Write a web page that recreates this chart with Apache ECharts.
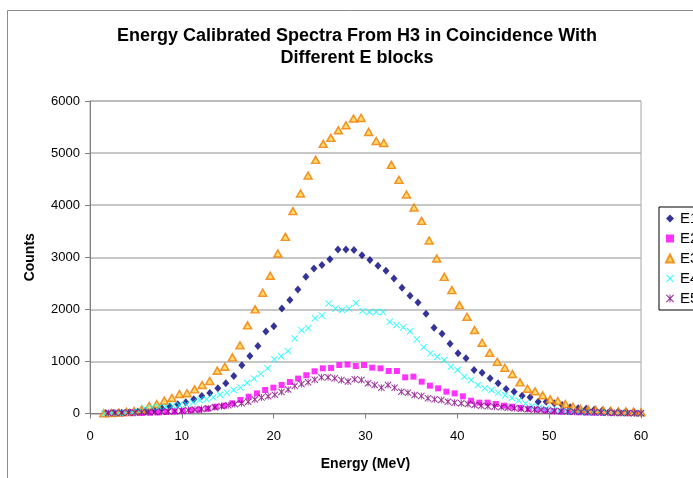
<!DOCTYPE html>
<html>
<head>
<meta charset="utf-8">
<script src="https://cdn.jsdelivr.net/npm/echarts@6.0.0/dist/echarts.min.js"></script>
<style>
  html, body { margin: 0; padding: 0; background: #fff; }
  #chart { width: 693px; height: 478px; }
</style>
</head>
<body>
<div id="chart"></div>
<script>
// counts per channel for each E block
const E1_COUNTS = [5, 10, 15, 25, 35, 50, 75, 100, 135, 176, 215, 272, 336, 393, 483, 579, 719, 927, 1106, 1298,
  1573, 1675, 2018, 2177, 2382, 2624, 2785, 2849, 2964, 3150, 3150, 3137, 3040, 2945, 2836, 2740, 2593, 2413, 2260, 2133,
  1915, 1646, 1531, 1340, 1155, 1059, 834, 783, 675, 579, 470, 418, 342, 311, 227, 227, 196, 165, 120, 100,
  90, 70, 60, 50, 40, 30, 25];
const E2_COUNTS = [0, 0, 5, 5, 10, 15, 20, 30, 40, 50, 60, 70, 90, 130, 150, 196, 259, 323, 387, 451,
  496, 547, 605, 670, 735, 810, 867, 875, 931, 940, 912, 931, 880, 867, 816, 816, 694, 707, 611, 534,
  483, 419, 387, 330, 245, 208, 208, 182, 150, 130, 110, 90, 75, 60, 45, 35, 30, 25, 20, 15,
  12, 10, 8, 5, 5];
const E3_COUNTS = [5, 10, 20, 30, 45, 75, 144, 182, 246, 297, 374, 388, 464, 547, 624, 822, 898, 1078, 1308, 1692,
  2000, 2318, 2645, 3073, 3392, 3885, 4224, 4570, 4870, 5177, 5292, 5438, 5534, 5663, 5675, 5406, 5233, 5195, 4773, 4485,
  4205, 3955, 3698, 3322, 2977, 2624, 2369, 2081, 1857, 1602, 1358, 1167, 994, 879, 758, 598, 476, 426, 349, 272,
  240, 182, 130, 92, 80, 70, 60, 50, 40, 40, 35, 25];
const E4_COUNTS = [0, 5, 10, 15, 25, 40, 90, 115, 125, 135, 150, 163, 180, 215, 259, 275, 310, 360, 400, 451,
  500, 590, 670, 760, 867, 1040, 1100, 1200, 1440, 1600, 1640, 1830, 1880, 2114, 2018, 1986, 2018, 2120, 1970, 1950,
  1950, 1950, 1760, 1700, 1653, 1580, 1423, 1270, 1155, 1090, 1026, 898, 834, 706, 643, 547, 483, 451, 400, 350,
  300, 250, 190, 140, 110, 90, 70, 55, 45, 35, 30, 25, 20, 18, 15, 12, 10, 8, 5, 5];
const E5_COUNTS = [10, 15, 15, 20, 20, 25, 30, 30, 35, 40, 45, 55, 65, 75, 85, 100, 119, 140, 160, 180,
  196, 225, 270, 305, 330, 360, 415, 460, 530, 566, 600, 650, 694, 694, 675, 643, 615, 656, 643, 579,
  547, 496, 547, 496, 419, 400, 355, 336, 291, 272, 259, 227, 208, 196, 182, 163, 150, 140, 130, 120,
  110, 100, 90, 80, 75, 70, 60, 50, 45, 40, 35, 30, 25, 22, 20, 15, 12, 10, 8, 5, 5];

// energy calibration of each block: [offset MeV, MeV per channel]
const E1_CAL = [1.71, 0.872];
const E2_CAL = [2.03, 0.897];
const E3_CAL = [1.5, 0.824];
const E4_CAL = [1.6, 0.739];
const E5_CAL = [2.0, 0.725];

const BLOCK_NAMES = ["E1", "E2", "E3", "E4", "E5"];
const X_TICKS = [0, 60, 10];
const Y_TICKS = [0, 6000, 1000];

const FONT = "'Liberation Sans', Arial, sans-serif";
const CROSS = "path://M0,1L1,0L5,4L9,0L10,1L6,5L10,9L9,10L5,6L1,10L0,9L4,5Z";
const STAR = "path://M0,1L1,0L4.4,3.4L4.4,0L5.6,0L5.6,3.4L9,0L10,1L6,5L10,9L9,10L5.6,6.6L5.6,10L4.4,10L4.4,6.6L1,10L0,9L4,5Z";

function calibrate(counts, cal) {
  return counts.map((c, ch) => [cal[0] + cal[1] * ch, c]);
}

const chart = echarts.init(document.getElementById("chart"), null, { renderer: "canvas" });

chart.setOption({
  backgroundColor: "#fff",
  animation: false,
  textStyle: { fontFamily: FONT },
  graphic: [
    {
      type: "rect",
      shape: { x: 7.5, y: 10.5, width: 800, height: 600 },
      style: { fill: "none", stroke: "#8c8c8c", lineWidth: 1 },
      silent: true,
    },
    {
      type: "text",
      x: 357, y: 36,
      style: {
        text: "Energy Calibrated Spectra From H3 in Coincidence With",
        fill: "#000", font: "bold 18px " + FONT, textAlign: "center", textVerticalAlign: "middle",
      },
    },
    {
      type: "text",
      x: 357, y: 58,
      style: {
        text: "Different E blocks",
        fill: "#000", font: "bold 18px " + FONT, textAlign: "center", textVerticalAlign: "middle",
      },
    },
  ],
  grid: {
    left: 90, right: 52, top: 101, bottom: 64.5,
    show: true, borderColor: "#a6a6a6", borderWidth: 1, backgroundColor: "transparent",
  },
  legend: {
    orient: "vertical",
    left: 659, top: 207,
    padding: [4, 30, 4, 6],
    itemGap: 5,
    itemWidth: 8, itemHeight: 8,
    borderColor: "#000", borderWidth: 1,
    data: BLOCK_NAMES,
    textStyle: { color: "#000", fontSize: 15, fontFamily: FONT, padding: [0, 0, 0, 1] },
  },
  xAxis: {
    type: "value",
    min: X_TICKS[0], max: X_TICKS[1], interval: X_TICKS[2],
    name: "Energy (MeV)",
    nameLocation: "middle",
    nameGap: 44,
    nameTextStyle: { color: "#000", fontWeight: "bold", fontSize: 14, fontFamily: FONT },
    axisLine: { lineStyle: { color: "#808080", width: 1 } },
    axisTick: { show: true, length: 5, lineStyle: { color: "#808080" } },
    axisLabel: { color: "#000", fontSize: 13, margin: 16, fontFamily: FONT },
    splitLine: { show: false },
  },
  yAxis: {
    type: "value",
    min: Y_TICKS[0], max: Y_TICKS[1], interval: Y_TICKS[2],
    name: "Counts",
    nameLocation: "middle",
    nameGap: 53,
    nameTextStyle: { color: "#000", fontWeight: "bold", fontSize: 14, fontFamily: FONT },
    axisLine: { show: true, lineStyle: { color: "#808080", width: 1 } },
    axisTick: { show: true, length: 5, lineStyle: { color: "#808080" } },
    axisLabel: { color: "#000", fontSize: 13, margin: 10, fontFamily: FONT, formatter: (v) => String(v) },
    splitLine: { lineStyle: { color: "#b4b4b4", width: 1.5 } },
  },
  series: [
    {
      name: "E1", type: "scatter", clip: false,
      data: calibrate(E1_COUNTS, E1_CAL),
      symbol: "diamond", symbolSize: [7, 8],
      itemStyle: { color: "#000080" },
    },
    {
      name: "E2", type: "scatter", clip: false,
      data: calibrate(E2_COUNTS, E2_CAL),
      symbol: "rect", symbolSize: 6,
      itemStyle: { color: "#ff00ff" },
    },
    {
      name: "E3", type: "scatter", clip: false,
      data: calibrate(E3_COUNTS, E3_CAL),
      symbol: "triangle", symbolSize: [8, 7],
      itemStyle: { color: "#ffd24a", borderColor: "#f27b00", borderWidth: 1.5 },
    },
    {
      name: "E4", type: "scatter", clip: false,
      data: calibrate(E4_COUNTS, E4_CAL),
      symbol: CROSS, symbolSize: 7,
      itemStyle: { color: "#00ffff" },
    },
    {
      name: "E5", type: "scatter", clip: false,
      data: calibrate(E5_COUNTS, E5_CAL),
      symbol: STAR, symbolSize: 7,
      itemStyle: { color: "#800080" },
    },
  ],
});
</script>
</body>
</html>
